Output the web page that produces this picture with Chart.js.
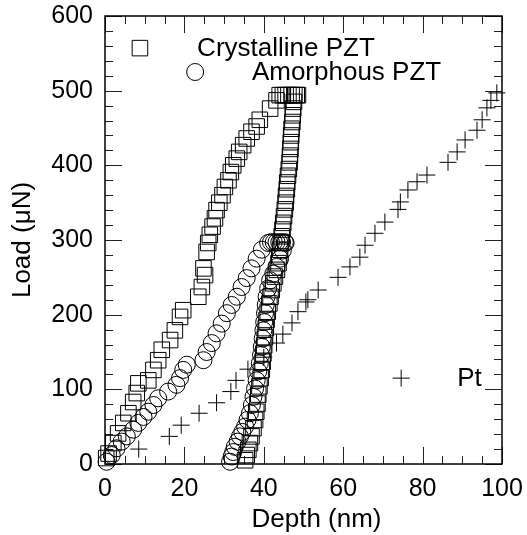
<!DOCTYPE html>
<html>
<head>
<meta charset="utf-8">
<script src="https://cdn.jsdelivr.net/npm/chart.js@4.4.0/dist/chart.umd.min.js"></script>
<style>
    body { margin: 0; background: #fff; }
    #wrap { width: 527px; height: 535px; }
</style>
</head>
<body>
<div id="wrap"><canvas id="LoadChart"></canvas></div>
<script>
// Crystalline PZT: loading, hold, unloading
const crystX = [0.3, 0.9, 2.1, 3.3, 4.6, 5.9, 7.1, 8.0, 8.4, 10.9, 12.2, 13.4, 14.3, 16.4, 17.6, 18.9, 19.7, 23.5, 24.4, 25.2, 24.8, 25.6, 26.0, 26.4, 27.1, 27.7, 28.1, 28.8, 29.6, 30.2, 31.1, 31.7, 32.3, 33.2, 33.8, 34.8, 35.7, 36.9, 38.2, 39.0, 41.6, 43.2,
    44.0, 44.8, 45.5, 46.2, 47.0, 47.7, 48.3,
    48.6, 47.6, 47.4, 47.3, 47.2, 47.0, 46.9, 46.8, 46.7, 46.6, 46.5, 46.3, 46.1, 45.9, 45.8, 45.6, 45.5, 45.3, 45.1, 44.9, 44.7, 44.5, 44.3, 44.1, 43.9, 43.7, 43.3, 42.8, 42.4, 42.0, 41.7, 41.4, 41.0, 40.7, 40.5, 40.3, 40.1, 39.9, 39.7, 39.5, 39.2, 38.9, 38.6, 38.4, 38.1, 37.8, 37.4, 36.9, 36.5, 36.1, 35.7, 35.3];
const crystY = [8, 14, 28, 41, 55, 68, 83, 95, 108, 112, 126, 139, 153, 166, 179, 197, 206, 224, 237, 253, 262, 284, 296, 307, 318, 329, 340, 350, 360, 371, 380, 391, 400, 409, 418, 427, 436, 445, 452, 461, 476, 487,
    494, 494, 494, 494, 494, 494, 494,
    494, 485, 476, 467, 458, 449, 440, 431, 422, 413, 404, 395, 386, 377, 368, 359, 350, 341, 332, 323, 314, 305, 296, 287, 278, 269, 260, 251, 242, 233, 224, 215, 204, 193, 182, 170, 159, 148, 137, 126, 115, 104, 93, 81, 70, 59, 48, 37, 28, 19, 12, 5];

// Amorphous PZT: loading, hold, unloading
const amorX = [0.4, 1.7, 2.9, 4.2, 5.5, 7.1, 8.4, 9.7, 10.9, 12.2, 13.4, 15.9, 18.0, 18.9, 19.7, 20.6, 24.8, 25.6, 26.9, 28.1, 29.4, 30.7, 31.9, 33.2, 34.4, 35.7, 36.9, 38.2, 39.5, 41.1,
    41.8, 42.5, 43.2, 43.9, 44.6, 45.3,
    45.5, 44.8, 44.1, 43.2, 42.4, 41.6, 41.1, 40.7, 40.5, 40.3, 40.1, 39.9, 39.7, 39.5, 39.3, 39.0, 38.6, 38.2, 37.8, 37.4, 37.0, 36.5, 35.9, 35.3, 34.6, 34.0, 33.4, 32.7, 32.3, 31.9, 31.5];
const amorY = [3, 12, 21, 30, 37, 46, 55, 63, 70, 79, 88, 97, 106, 115, 126, 133, 139, 150, 162, 175, 188, 202, 213, 224, 237, 249, 262, 275, 287, 296,
    297, 297, 297, 297, 297, 297,
    296, 286, 275, 264, 255, 246, 235, 224, 213, 202, 190, 179, 168, 157, 146, 135, 124, 112, 101, 90, 79, 68, 59, 50, 43, 37, 30, 23, 16, 10, 3];

// Pt
const ptX = [8.5, 16.2, 19.2, 23.7, 28.1, 31.7, 33.0, 36.0, 40.0, 43.2, 44.8, 47.1, 48.6, 50.6, 51.1, 53.7, 58.7, 61.7, 64.2, 65.5, 68.0, 70.5, 73.8, 74.4, 76.3, 78.6, 81.1, 86.4, 88.7, 90.7, 93.7, 95.0, 96.2, 97.2, 98.7];
const ptY = [20, 37, 52, 68, 82, 97, 112, 127, 143, 162, 174, 189, 204, 217, 220, 233, 250, 264, 277, 293, 309, 324, 341, 351, 367, 378, 387, 404, 418, 434, 447, 461, 477, 487, 497];

const seriesNames = ["Crystalline PZT", "Amorphous PZT", "Pt"];
const xTickMajor = 20;
const yTickMajor = 100;

const FONT = "'Liberation Sans', Arial, sans-serif";

function pairs(xs, ys) {
    return xs.map((x, i) => ({ x: x, y: ys[i] }));
}

// fixed axis boxes so the plot frame lands where the original one is
function fixBox(size) {
    return (s) => {
        if (s.isHorizontal()) s.height = size; else s.width = size;
        s.paddingTop = 0;
        s.paddingBottom = 0;
        s.paddingLeft = 0;
        s.paddingRight = 0;
    };
}

// inward ticks on all four sides plus frame
const frameTicks = {
    id: "frameTicks",
    beforeDatasetsDraw(chart) {
        const { ctx, chartArea: a, scales } = chart;
        ctx.save();
        ctx.strokeStyle = "#222";
        ctx.lineWidth = 1;
        ctx.beginPath();
        scales.x.ticks.forEach((t) => {
            const px = Math.round(scales.x.getPixelForValue(t.value)) + 0.5;
            const len = t.value % xTickMajor === 0 ? 17 : 8;
            ctx.moveTo(px, a.bottom);
            ctx.lineTo(px, a.bottom - len);
            ctx.moveTo(px, a.top);
            ctx.lineTo(px, a.top + len);
        });
        scales.y.ticks.forEach((t) => {
            const py = Math.round(scales.y.getPixelForValue(t.value)) + 0.5;
            const len = t.value % yTickMajor === 0 ? 17 : 8;
            ctx.moveTo(a.left, py);
            ctx.lineTo(a.left + len, py);
            ctx.moveTo(a.right, py);
            ctx.lineTo(a.right - len, py);
        });
        ctx.stroke();
        ctx.lineWidth = 1.5;
        ctx.strokeStyle = "#000";
        ctx.strokeRect(a.left, a.top, a.right - a.left, a.bottom - a.top);
        ctx.restore();
    },
};

// legend entries placed in data coordinates, x title
const legendSpots = [
    { mx: 8.8, my: 557, tx: 23.2 },
    { mx: 22.7, my: 525, tx: 37.0 },
    { mx: 74.6, my: 115, tx: 88.7 },
];

const labelsPlugin = {
    id: "labelsPlugin",
    afterDraw(chart) {
        const { ctx, chartArea: a, scales } = chart;
        ctx.save();
        chart.data.datasets.forEach((ds, i) => {
            const spot = legendSpots[i];
            const mx = scales.x.getPixelForValue(spot.mx);
            const my = scales.y.getPixelForValue(spot.my);
            ctx.strokeStyle = "#000";
            ctx.fillStyle = "rgba(0,0,0,0)";
            ctx.lineWidth = 1;
            Chart.helpers.drawPoint(ctx, {
                pointStyle: ds.pointStyle,
                radius: ds.pointRadius,
                rotation: 0,
                borderWidth: 1,
            }, mx, my);
            ctx.fillStyle = "#000";
            ctx.font = "26px " + FONT;
            ctx.textAlign = "left";
            ctx.textBaseline = "middle";
            ctx.fillText(ds.label, scales.x.getPixelForValue(spot.tx), my + 1);
        });
        ctx.font = "26px " + FONT;
        ctx.textAlign = "center";
        ctx.textBaseline = "alphabetic";
        ctx.fillText("Depth (nm)", (a.left + a.right) / 2 + 13, 527);
        ctx.restore();
    },
};

function LoadChart() {
    const ctx = document.getElementById("LoadChart");

    new Chart(ctx, {
        type: "scatter",
        data: {
            datasets: [
                {
                    label: seriesNames[0],
                    data: pairs(crystX, crystY),
                    pointStyle: "rect",
                    pointRadius: 11,
                    borderColor: "#000",
                    backgroundColor: "rgba(0,0,0,0)",
                    borderWidth: 1,
                },
                {
                    label: seriesNames[1],
                    data: pairs(amorX, amorY),
                    pointStyle: "circle",
                    pointRadius: 8.5,
                    borderColor: "#000",
                    backgroundColor: "rgba(0,0,0,0)",
                    borderWidth: 1,
                },
                {
                    label: seriesNames[2],
                    data: pairs(ptX, ptY),
                    pointStyle: "cross",
                    pointRadius: 8.5,
                    borderColor: "#000",
                    backgroundColor: "rgba(0,0,0,0)",
                    borderWidth: 1,
                },
            ],
        },
        options: {
            responsive: true,
            maintainAspectRatio: false,
            animation: false,
            clip: false,
            layout: {
                padding: { left: 0, top: 16, right: 25, bottom: 0 },
            },
            plugins: {
                legend: { display: false },
                tooltip: { enabled: false },
            },
            scales: {
                x: {
                    type: "linear",
                    min: 0,
                    max: 100,
                    grid: { display: false, drawTicks: false },
                    border: { display: false },
                    ticks: {
                        stepSize: 5,
                        autoSkip: false,
                        maxRotation: 0,
                        padding: 10,
                        color: "#000",
                        font: { family: FONT, size: 25 },
                        callback: (v) => (v % xTickMajor === 0 ? v : ""),
                    },
                    afterFit: fixBox(71),
                },
                y: {
                    type: "linear",
                    min: 0,
                    max: 600,
                    grid: { display: false, drawTicks: false },
                    border: { display: false },
                    ticks: {
                        stepSize: 20,
                        autoSkip: false,
                        padding: 12,
                        color: "#000",
                        font: { family: FONT, size: 25 },
                        callback: (v) => (v % yTickMajor === 0 ? v : ""),
                    },
                    title: {
                        display: true,
                        text: "Load (μN)",
                        color: "#000",
                        font: { family: FONT, size: 26, lineHeight: 1 },
                        padding: { top: 10, bottom: 0 },
                    },
                    afterFit: fixBox(105),
                },
            },
        },
        plugins: [frameTicks, labelsPlugin],
    });
}

LoadChart();
</script>
</body>
</html>
